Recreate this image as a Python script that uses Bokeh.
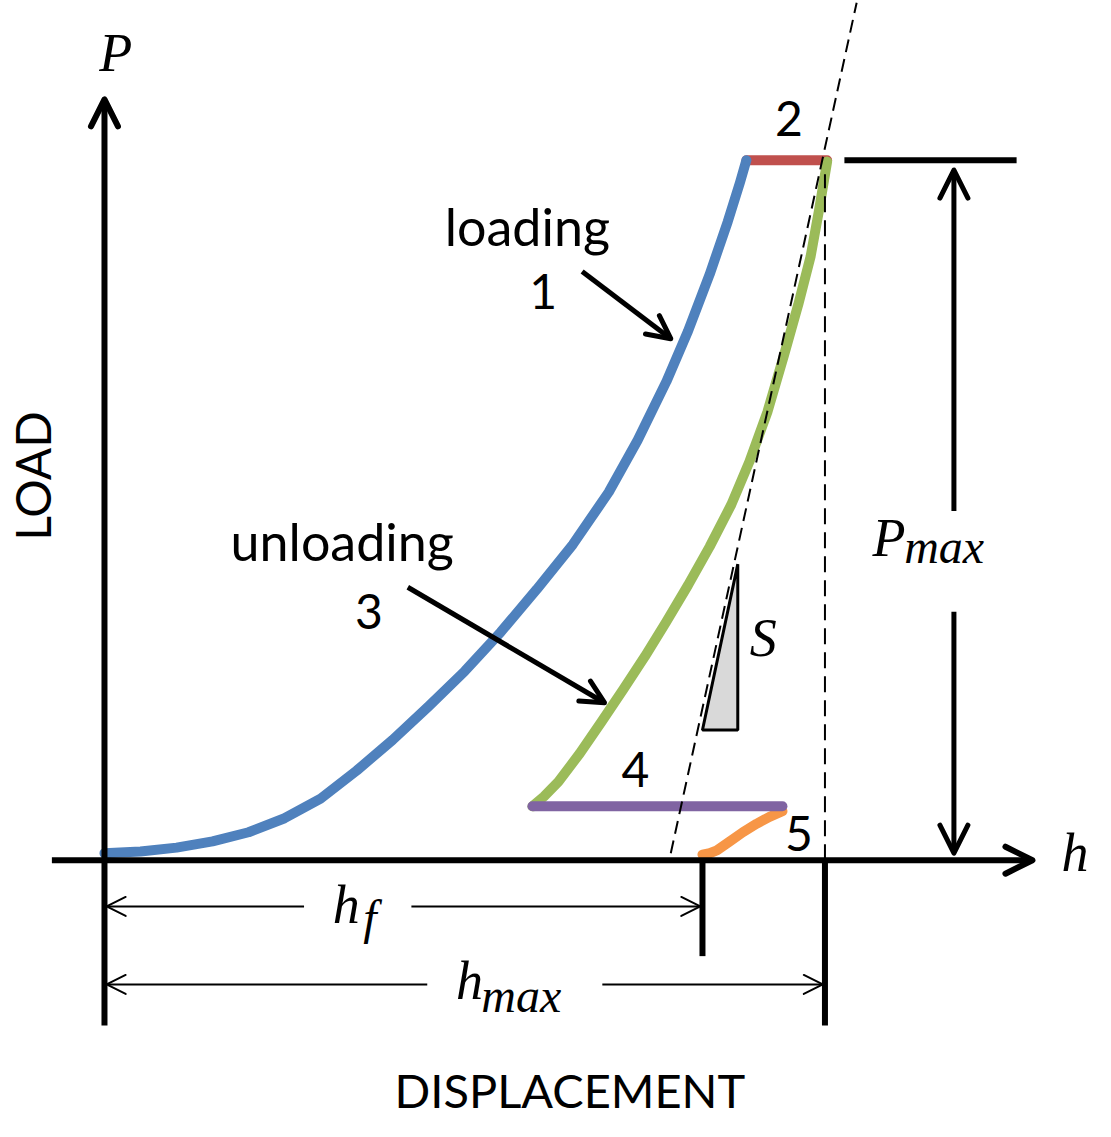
import numpy as np
from bokeh.plotting import figure
from bokeh.models import Arrow, OpenHead, Range1d
from bokeh.core.properties import value
from bokeh.embed import file_html
from bokeh.resources import INLINE

# ---- data (h: displacement in % of h_max, P: load in % of P_max) ----
loading_h = [0, 5, 10, 15, 20, 25, 30, 35, 40, 45, 50, 55, 60, 65, 70, 74, 78, 81, 84, 86.5, 88.2, 89.1]
loading_P = [1.0, 1.25, 1.8, 2.7, 4.0, 6.0, 8.8, 12.8, 17.2, 22.0, 27.0, 32.6, 38.7, 45.1, 52.6,
             60.0, 68.4, 75.6, 83.7, 91.2, 96.8, 100.0]
hold_h = [89.1, 100.3]
hold_P = [100.0, 100.0]
unloading_h = [100.3, 99.2, 98.0, 96.3, 94.3, 92.0, 89.5, 87.0, 84.0, 81.0, 78.0, 75.0, 72.0,
               69.0, 66.0, 63.0, 61.0, 59.4]
unloading_P = [99.8, 93.0, 86.2, 79.4, 72.1, 64.0, 56.9, 50.8, 44.8, 39.3, 34.1, 29.1, 24.4,
               19.8, 15.3, 11.2, 9.1, 7.7]
low_hold_h = [59.4, 94.1]
low_hold_P = [7.7, 7.7]
final_h = [94.1, 92.3, 90.5, 88.6, 86.8, 85.0, 84.0, 83.0]
final_P = [7.0, 6.2, 5.2, 4.0, 2.7, 1.4, 1.0, 0.8]
tangent_h = [78.6, 104.4]
tangent_P = [1.0, 122.5]
slope_h = [83.0, 87.9, 87.9]
slope_P = [18.6, 18.6, 42.3]
h_f = 83.0
h_max = 100.0
P_max = 100.0

BLUE = "#4f81bd"
RED = "#c0504d"
GREEN = "#9bbb59"
PURPLE = "#8064a2"
ORANGE = "#f79646"

p = figure(width=1095, height=1121,
           x_range=Range1d(-14.432, 137.551), y_range=Range1d(-37.324, 122.817),
           output_backend="svg", toolbar_location=None, min_border=0,
           x_axis_type=None, y_axis_type=None)
p.grid.visible = False
p.outline_line_color = None
p.background_fill_color = "white"
p.border_fill_color = "white"

K = "black"


def arrow(x0, y0, x1, y1, lw, size, head_lw):
    p.add_layout(Arrow(end=OpenHead(size=size, line_width=head_lw, line_color=K,
                                    line_cap="round", line_join="round"),
                       x_start=x0, y_start=y0, x_end=x1, y_end=y1,
                       line_width=lw, line_color=K))


# axes
arrow(-7.3, 0, 128.8, 0, 6, 27, 6)
arrow(0, -23.6, 0, 108.7, 6, 27, 6)
# ticks at h_f and h_max
p.line([h_f, h_f], [0, -13.7], line_width=6, color=K)
p.line([h_max, h_max], [0, -23.6], line_width=6, color=K)
# P_max reference line and arrows
p.line([102.7, 126.6], [P_max, P_max], line_width=6, color=K)
arrow(117.9, 49.9, 117.9, 98.6, 5, 28, 5)
arrow(117.9, 35.5, 117.9, 1.0, 5, 28, 5)
# dimension arrows
arrow(27.7, -6.6, 0.3, -6.6, 2, 19, 2)
arrow(42.6, -6.6, h_f - 0.3, -6.6, 2, 19, 2)
arrow(44.8, -17.75, 0.3, -17.75, 2, 19, 2)
arrow(69.1, -17.75, h_max - 0.3, -17.75, 2, 19, 2)

# slope triangle
p.patch(slope_h, slope_P, fill_color="#d9d9d9", line_color=K, line_width=3)

# curves
kw = dict(line_width=10, line_cap="round", line_join="round")
p.line(hold_h, hold_P, color=RED, **kw)
p.line(loading_h, loading_P, color=BLUE, **kw)
p.line(unloading_h, unloading_P, color=GREEN, **kw)
p.line(final_h, final_P, color=ORANGE, **kw)
p.line(low_hold_h, low_hold_P, color=PURPLE, **kw)

# dashed construction lines
p.line(tangent_h, tangent_P, line_width=2, color=K, line_dash="13 7")
p.line([h_max, h_max], [0, 98.0], line_width=2, color=K, line_dash="16 8")

# pointer arrows
arrow(66.3, 84.1, 78.6, 74.5, 5, 23, 5)
arrow(42.1, 39.0, 69.4, 22.5, 5, 23, 5)

SANS = value("Lato")
SERIF = value("Liberation Serif")

# sans labels
p.text(x=[58.7, 33.0], y=[90.65, 45.55], text=["loading", "unloading"],
       text_font=SANS, text_font_size="52px", text_align="center",
       text_baseline="alphabetic", text_color=K)
p.text(x=[60.9, 95.0, 36.7, 73.7, 96.4], y=[81.24, 105.94, 35.54, 12.94, 3.81],
       text=["1", "2", "3", "4", "5"],
       text_font=SANS, text_font_size="48px", text_align="center",
       text_baseline="alphabetic", text_color=K)
p.text(x=[64.6], y=[-32.8], text=["DISPLACEMENT"], text_font=SANS,
       text_font_size="47px", text_align="center", text_baseline="alphabetic",
       text_color=K)
p.text(x=[-10.05], y=[54.9], text=["LOAD"], angle=np.pi / 2, text_font=SANS,
       text_font_size="48px", text_align="center", text_baseline="alphabetic",
       text_color=K)

# math labels
p.text(x=[1.57, 134.7, 91.45], y=[115.35, 1.02, 31.75], text=["P", "h", "S"],
       text_font=SERIF, text_font_style="italic", text_font_size="54px",
       text_align="center", text_baseline="alphabetic", text_color=K)
p.text(x=[106.6, 31.7, 48.8], y=[46.05, -6.45, -17.25], text=["P", "h", "h"],
       text_font=SERIF, text_font_style="italic", text_font_size="54px",
       text_align="left", text_baseline="alphabetic", text_color=K)
p.text(x=[111.0, 35.9, 52.3], y=[44.79, -8.16, -19.26], text=["max", "f", "max"],
       text_font=SERIF, text_font_style="italic", text_font_size="48px",
       text_align="left", text_baseline="alphabetic", text_color=K)

open("out.html", "w").write(file_html(p, INLINE))
